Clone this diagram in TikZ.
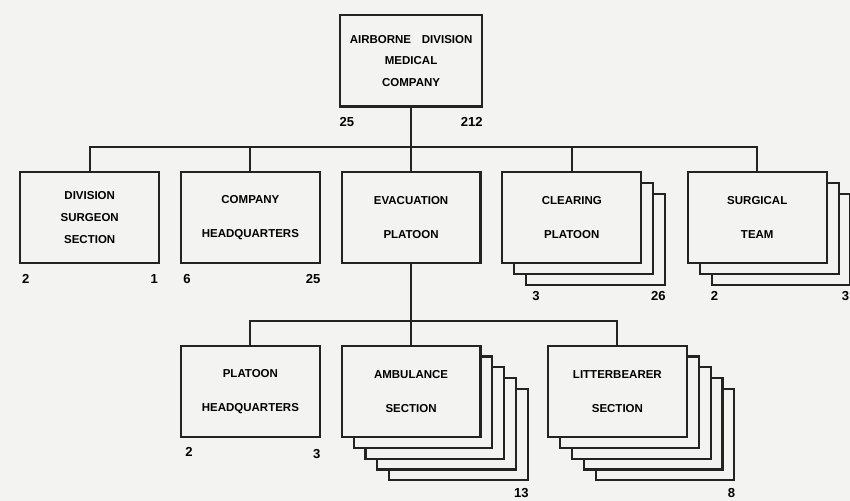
\documentclass[tikz,border=0pt]{standalone}
\usepackage{fontspec}
\setmainfont{Liberation Sans}
\usepackage{tikz}
\usetikzlibrary{positioning,shadows}
\definecolor{paper}{RGB}{243,243,241}
\definecolor{ink}{RGB}{35,35,35}
\tikzset{
  unit/.style={rectangle,draw=ink,line width=1.2pt,fill=paper,align=center,minimum width=2.8cm,minimum height=1.84cm,inner sep=0pt,font=\fontsize{6.6}{12.5}\selectfont\bfseries},
  sheet/.style args={#1/#2}{copy shadow={shadow xshift=#1,shadow yshift=#2,draw=ink,line width=1.2pt,fill=paper}},
  stacktwo/.style={sheet=0.48cm/-0.44cm,sheet=0.24cm/-0.22cm},
  stackfour/.style={sheet=0.96cm/-0.88cm,sheet=0.72cm/-0.66cm,sheet=0.48cm/-0.44cm,sheet=0.24cm/-0.22cm},
  count/.style={inner sep=0pt,font=\fontsize{7.5}{9}\selectfont\bfseries},
  link/.style={draw=ink,line width=1.1pt}
}

\begin{document}
\begin{tikzpicture}
  \useasboundingbox (0,0) rectangle (17.15,10.09);
  \fill[paper] (-0.5,-0.5) rectangle (17.7,10.6);
  % second level
  \node[unit] (surgeon) at (1.81,5.7) {DIVISION\\SURGEON\\SECTION};
  \node[unit,right=0.4cm of surgeon] (hq) {COMPANY\\[7pt]HEADQUARTERS};
  \node[unit,right=0.4cm of hq] (evac) {EVACUATION\\[7pt]PLATOON};
  \node[unit,stacktwo,right=0.4cm of evac] (clearing) {CLEARING\\[7pt]PLATOON};
  \node[unit,stacktwo,right=0.9cm of clearing] (surgical) {SURGICAL\\[7pt]TEAM};
  % top
  \node[unit,minimum width=2.86cm,above=1.28cm of evac] (company) {AIRBORNE\enspace\, DIVISION\\MEDICAL\\COMPANY};
  % third level
  \node[unit,below=1.62cm of hq] (platoonhq) {PLATOON\\[7pt]HEADQUARTERS};
  \node[unit,stackfour,below=1.62cm of evac] (ambulance) {AMBULANCE\\[7pt]SECTION};
  \node[unit,stackfour,right=1.32cm of ambulance] (litter) {LITTERBEARER\\[7pt]SECTION};

  % strengths
  \node[count,anchor=north west] (company-o) at ([yshift=-0.2cm]company.south west) {25};
  \node[count,anchor=north east] (company-e) at ([yshift=-0.2cm]company.south east) {212};
  \node[count,anchor=north west] (surgeon-o) at ([shift={(0.05,-0.2)}]surgeon.south west) {2};
  \node[count,anchor=north east] (surgeon-e) at ([shift={(-0.04,-0.2)}]surgeon.south east) {1};
  \node[count,anchor=north west] (hq-o) at ([shift={(0.06,-0.2)}]hq.south west) {6};
  \node[count,anchor=north east] (hq-e) at ([yshift=-0.2cm]hq.south east) {25};
  \node[count,anchor=north west] (clearing-o) at ([shift={(0.62,-0.54)}]clearing.south west) {3};
  \node[count,anchor=north east] (clearing-e) at ([shift={(0.48,-0.54)}]clearing.south east) {26};
  \node[count,anchor=north west] (surgical-o) at ([shift={(0.48,-0.54)}]surgical.south west) {2};
  \node[count,anchor=north east] (surgical-e) at ([shift={(0.44,-0.54)}]surgical.south east) {3};
  \node[count,anchor=north west] (platoonhq-o) at ([shift={(0.1,-0.18)}]platoonhq.south west) {2};
  \node[count,anchor=north east] (platoonhq-e) at ([yshift=-0.22cm]platoonhq.south east) {3};
  \node[count,anchor=north east] (ambulance-e) at ([shift={(0.96,-1.02)}]ambulance.south east) {13};
  \node[count,anchor=north east] (litter-e) at ([shift={(0.96,-1.02)}]litter.south east) {8};

  % connectors
  \coordinate (busone) at ([yshift=-0.8cm]company.south);
  \coordinate (bustwo) at ([yshift=-1.14cm]evac.south);
  \draw[link] (company.south) -- (busone);
  \foreach \unit in {surgeon,hq,evac,clearing,surgical}
    \draw[link] (busone) -| (\unit.north);
  \draw[link] (evac.south) -- (bustwo);
  \foreach \unit in {platoonhq,ambulance,litter}
    \draw[link] (bustwo) -| (\unit.north);
\end{tikzpicture}
\end{document}
